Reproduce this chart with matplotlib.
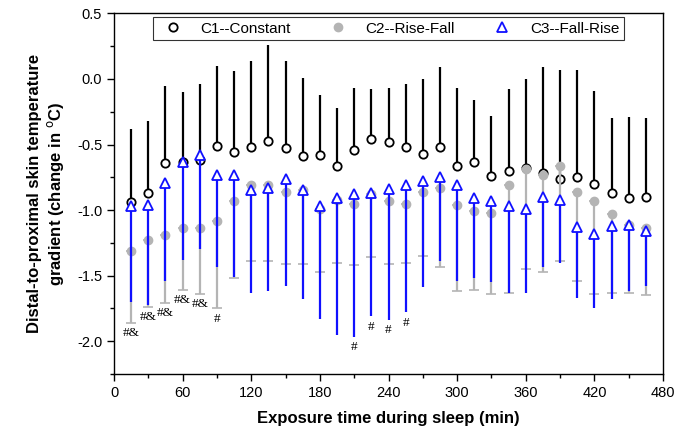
import numpy as np
import matplotlib
matplotlib.use('Agg')
import matplotlib.pyplot as plt
from matplotlib.lines import Line2D
from matplotlib.ticker import MultipleLocator, FormatStrFormatter

plt.rcParams['font.family'] = ['Liberation Sans', 'DejaVu Sans']
plt.rcParams['axes.unicode_minus'] = False

# Time points (min)
time = np.arange(15, 466, 15)

# C1--Constant: mean and upper end of error bar
c1_mean = [-0.94, -0.87, -0.64, -0.63, -0.62, -0.51, -0.56, -0.52, -0.47, -0.53,
           -0.59, -0.58, -0.66, -0.54, -0.46, -0.48, -0.52, -0.57, -0.52, -0.66,
           -0.63, -0.74, -0.70, -0.68, -0.72, -0.76, -0.75, -0.80, -0.87, -0.91, -0.90]
c1_upper = [-0.38, -0.32, -0.05, -0.10, -0.04, 0.10, 0.06, 0.14, 0.26, 0.14,
            0.01, -0.12, -0.22, -0.07, -0.08, -0.07, -0.04, 0.00, 0.09, -0.07,
            -0.16, -0.28, -0.08, 0.00, 0.09, 0.07, 0.07, -0.09, -0.30, -0.29, -0.30]

# C2--Rise-Fall: mean and lower end of error bar
c2_mean = [-1.31, -1.23, -1.19, -1.14, -1.14, -1.08, -0.93, -0.81, -0.81, -0.86,
           -0.85, -0.99, -0.92, -0.95, -0.88, -0.93, -0.95, -0.86, -0.83, -0.96,
           -1.01, -1.02, -0.81, -0.69, -0.73, -0.66, -0.86, -0.93, -1.03, -1.11, -1.14]
c2_lower = [-1.86, -1.74, -1.71, -1.61, -1.64, -1.75, -1.52, -1.39, -1.39, -1.41,
            -1.41, -1.47, -1.40, -1.42, -1.36, -1.41, -1.40, -1.35, -1.43, -1.62,
            -1.61, -1.64, -1.63, -1.45, -1.47, -1.39, -1.54, -1.64, -1.63, -1.63, -1.65]

# C3--Fall-Rise: mean and lower end of error bar
c3_mean = [-0.97, -0.96, -0.79, -0.63, -0.58, -0.73, -0.73, -0.85, -0.83, -0.76,
           -0.85, -0.97, -0.91, -0.88, -0.87, -0.84, -0.81, -0.78, -0.75, -0.81,
           -0.91, -0.93, -0.97, -0.99, -0.90, -0.92, -1.13, -1.18, -1.12, -1.11, -1.16]
c3_lower = [-1.70, -1.72, -1.54, -1.38, -1.30, -1.43, -1.51, -1.63, -1.62, -1.58,
            -1.68, -1.83, -1.95, -1.97, -1.81, -1.84, -1.78, -1.59, -1.39, -1.54,
            -1.52, -1.55, -1.63, -1.63, -1.43, -1.40, -1.67, -1.75, -1.68, -1.62, -1.58]

# significance marks
sig_amp_times = [15, 30, 45, 60, 75]
sig_hash_times = [90, 210, 225, 240, 255]

c1_mean = np.array(c1_mean)
c2_mean = np.array(c2_mean)
c3_mean = np.array(c3_mean)
c1_err = np.array(c1_upper) - c1_mean
c2_err = c2_mean - np.array(c2_lower)
c3_err = c3_mean - np.array(c3_lower)
zeros = np.zeros_like(c1_err)

fig = plt.figure(figsize=(6.91, 4.38), dpi=100)
ax = fig.add_axes([0.165, 0.146, 0.7945, 0.8234])

ax.errorbar(time, c1_mean, yerr=[zeros, c1_err], fmt='o', color='black',
            mfc='white', mec='black', ms=6, mew=1.3, elinewidth=1.6, capsize=0, zorder=2)
ax.errorbar(time, c2_mean, yerr=[c2_err, zeros], fmt='o', color='#b4b4b4',
            mfc='#b4b4b4', mec='#b4b4b4', ms=6, elinewidth=1.6, capsize=3.5,
            capthick=1.2, zorder=3)
ax.errorbar(time, c3_mean, yerr=[c3_err, zeros], fmt='^', color='#1010ff',
            mfc='white', mec='#1010ff', ms=7, mew=1.3, elinewidth=1.6, capsize=0, zorder=4)

# annotations below lowest error bar end
low = np.minimum(np.array(c2_lower), np.array(c3_lower))
for t in sig_amp_times + sig_hash_times:
    i = list(time).index(t)
    label = '#&' if t in sig_amp_times else '#'
    ax.annotate(label, (t, low[i]), xytext=(0, -3), textcoords='offset points',
                ha='center', va='top', fontsize=9.5, family='Liberation Serif')

ax.set_xlim(0, 480)
ax.set_ylim(-2.25, 0.5)
ax.xaxis.set_major_locator(MultipleLocator(60))
ax.xaxis.set_minor_locator(MultipleLocator(30))
ax.yaxis.set_major_locator(MultipleLocator(0.5))
ax.yaxis.set_minor_locator(MultipleLocator(0.25))
ax.yaxis.set_major_formatter(FormatStrFormatter('%.1f'))
ax.tick_params(which='major', direction='out', length=5, width=1, labelsize=10.5,
               top=False, right=False)
ax.tick_params(which='minor', direction='out', length=3, width=1, top=False, right=False)
for s in ax.spines.values():
    s.set_linewidth(1)

ax.set_xlabel('Exposure time during sleep (min)', fontsize=12, fontweight='bold', labelpad=8)
ax.set_ylabel('Distal-to-proximal skin temperature\ngradient (change in $^{\\mathrm{o}}$C)',
              fontsize=12, fontweight='bold', labelpad=8)

handles = [
    Line2D([], [], ls='none', marker='o', mfc='white', mec='black', ms=6, mew=1.3),
    Line2D([], [], ls='none', marker='o', mfc='#b4b4b4', mec='#b4b4b4', ms=6),
    Line2D([], [], ls='none', marker='^', mfc='white', mec='#1010ff', ms=7, mew=1.3),
]
leg = ax.legend(handles, ['C1--Constant', 'C2--Rise-Fall', 'C3--Fall-Rise'],
                loc='upper center', ncol=3, fontsize=11, frameon=True, fancybox=False,
                edgecolor='black', borderaxespad=0.25, handletextpad=0.8,
                columnspacing=2.1, borderpad=0.3, numpoints=1)
leg.get_frame().set_linewidth(0.8)

fig.savefig('out.png', dpi=100)
